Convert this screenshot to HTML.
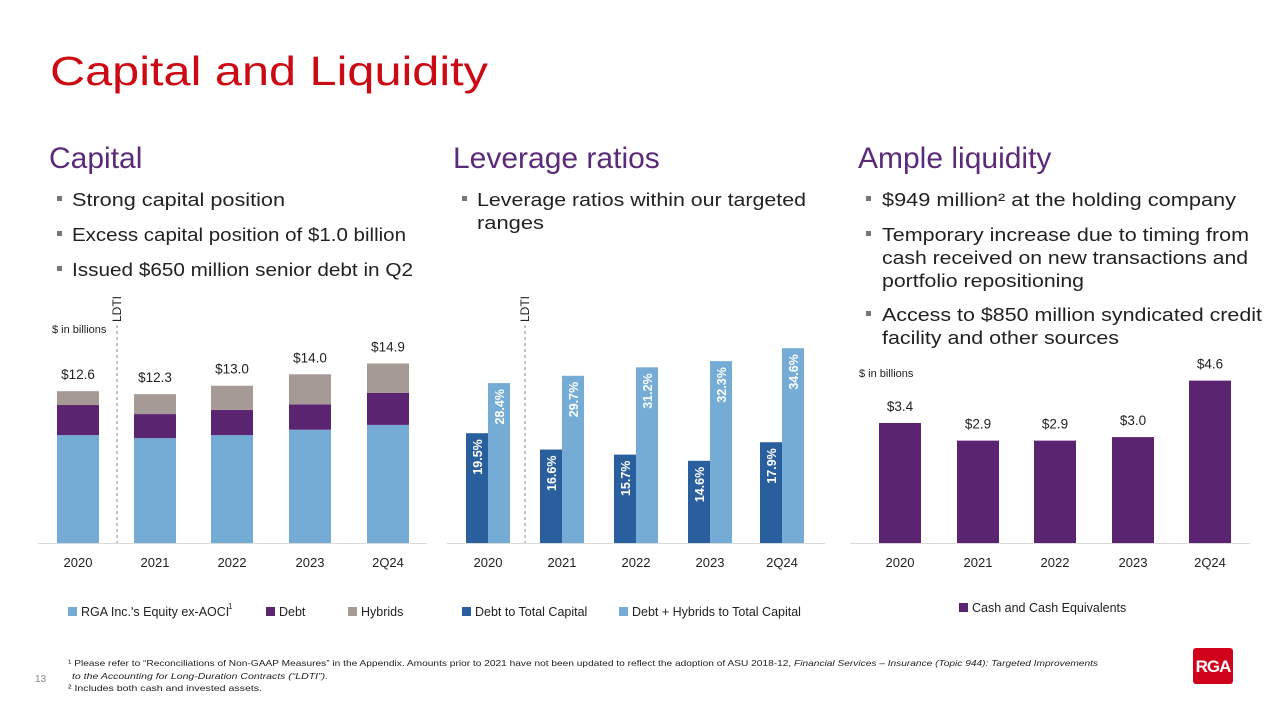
<!DOCTYPE html>
<html><head><meta charset="utf-8"><style>
html,body{margin:0;padding:0;background:#fff}
svg{display:block;font-family:"Liberation Sans",sans-serif}
</style></head><body>
<svg id="s" width="1280" height="720" viewBox="0 0 1280 720">
<text x="50" y="85" font-size="41" fill="#cc0a14" textLength="438" lengthAdjust="spacingAndGlyphs">Capital and Liquidity</text>

<text x="49" y="168" font-size="30" fill="#5b2a78">Capital</text>
<text x="453" y="168" font-size="30" fill="#5b2a78">Leverage ratios</text>
<text x="858" y="168" font-size="30" fill="#5b2a78">Ample liquidity</text>

<g font-size="18" fill="#222">
<rect x="57" y="196" width="5" height="5" fill="#777"/><text x="72" y="206" textLength="213" lengthAdjust="spacingAndGlyphs">Strong capital position</text>
<rect x="57" y="231" width="5" height="5" fill="#777"/><text x="72" y="241" textLength="334" lengthAdjust="spacingAndGlyphs">Excess capital position of $1.0 billion</text>
<rect x="57" y="266" width="5" height="5" fill="#777"/><text x="72" y="276" textLength="341" lengthAdjust="spacingAndGlyphs">Issued $650 million senior debt in Q2</text>
<rect x="462" y="196" width="5" height="5" fill="#777"/><text x="477" y="206" textLength="329" lengthAdjust="spacingAndGlyphs">Leverage ratios within our targeted</text><text x="477" y="229" textLength="67" lengthAdjust="spacingAndGlyphs">ranges</text>
<rect x="866" y="196" width="5" height="5" fill="#777"/><text x="882" y="206" textLength="354" lengthAdjust="spacingAndGlyphs">$949 million² at the holding company</text>
<rect x="866" y="231" width="5" height="5" fill="#777"/><text x="882" y="241" textLength="367" lengthAdjust="spacingAndGlyphs">Temporary increase due to timing from</text><text x="882" y="264" textLength="366" lengthAdjust="spacingAndGlyphs">cash received on new transactions and</text><text x="882" y="287" textLength="202" lengthAdjust="spacingAndGlyphs">portfolio repositioning</text>
<rect x="866" y="311" width="5" height="5" fill="#777"/><text x="882" y="321" textLength="380" lengthAdjust="spacingAndGlyphs">Access to $850 million syndicated credit</text><text x="882" y="344" textLength="237" lengthAdjust="spacingAndGlyphs">facility and other sources</text>
</g>

<g id="c1"></g>
<g id="c2"></g>
<g id="c3"></g>

<g font-size="8.5" fill="#222">
<text x="35" y="682" font-size="10" fill="#888">13</text>
<text x="68" y="666" textLength="1030" lengthAdjust="spacingAndGlyphs">¹ Please refer to “Reconciliations of Non-GAAP Measures” in the Appendix. Amounts prior to 2021 have not been updated to reflect the adoption of ASU 2018-12, <tspan font-style="italic">Financial Services – Insurance (Topic 944): Targeted Improvements</tspan></text>
<text x="72" y="679" font-style="italic" textLength="256" lengthAdjust="spacingAndGlyphs">to the Accounting for Long-Duration Contracts (“LDTI”).</text>
<text x="68" y="691" textLength="194" lengthAdjust="spacingAndGlyphs">² Includes both cash and invested assets.</text>
</g>
<g>
<rect x="1193" y="648" width="40" height="36" rx="3" fill="#d0021b"/>
<text x="1213" y="672" font-size="17" font-weight="bold" fill="#fff" text-anchor="middle" letter-spacing="-1">RGA</text>
</g>
</svg>
<script>
const NS="http://www.w3.org/2000/svg";
function mk(p,t,a,txt){const e=document.createElementNS(NS,t);for(const k in a)e.setAttribute(k,a[k]);if(txt!=null)e.textContent=txt;p.appendChild(e);return e;}
const categories=["2020","2021","2022","2023","2Q24"];
// Capital chart ($B)
const equity=[8.95,8.7,8.95,9.4,9.8];
const debt=[2.5,2.0,2.1,2.1,2.65];
const hybrids=[1.15,1.65,2.0,2.5,2.45];
const capitalTotals=["$12.6","$12.3","$13.0","$14.0","$14.9"];
// Leverage chart (%)
const debtToCap=[19.5,16.6,15.7,14.6,17.9];
const debtHybToCap=[28.4,29.7,31.2,32.3,34.6];
// Liquidity chart ($B)
const cash=[3.4,2.9,2.9,3.0,4.6];
const cashLabels=["$3.4","$2.9","$2.9","$3.0","$4.6"];

const base=543;
function axis(g,x0,x1,centers){
  const l=mk(g,'line',{x1:x0,x2:x1,y1:base+0.5,y2:base+0.5,stroke:'#d9d9d9','stroke-width':1});
  
  
  categories.forEach((c,i)=>{const t=mk(g,'text',{x:centers[i],y:567,'font-size':13,fill:'#222','text-anchor':'middle'},c);
    
    });
}
function ldti(g,x){
  const l=mk(g,'line',{x1:x,x2:x,y1:325,y2:543,stroke:'#888','stroke-dasharray':'3,3'});
  
  
  const t=mk(g,'text',{transform:`translate(${x+4},322) rotate(-90)`,'font-size':12,fill:'#222'},'LDTI');
  
  
}
function legend(g,x,color,label,y){
  mk(g,'rect',{x:x,y:y-9,width:9,height:9,fill:color});
  const t=mk(g,'text',{x:x+13,y:y,'font-size':12.5,fill:'#222'},label);
  
  
}
// chart 1
(function(){
  const g=document.getElementById('c1');
  const centers=[78,155,232,310,388], w=42, k=12.05;
  const y=v=>base-v*k;
  axis(g,38,427,centers);
  categories.forEach((c,i)=>{
    const e=equity[i],d=debt[i],h=hybrids[i];
    const parts=[[0,e,'#74acd5','bar-equity'],[e,e+d,'#5b2470','bar-debt'],[e+d,e+d+h,'#a59a96','bar-hybrids']];
    parts.forEach(p=>{const r=mk(g,'rect',{x:centers[i]-w/2,y:y(p[1]),width:w,height:y(p[0])-y(p[1]),fill:p[2]});
      
      });
    const t=mk(g,'text',{x:centers[i],y:y(e+d+h)-12,'font-size':13.5,fill:'#222','text-anchor':'middle'},capitalTotals[i]);
    
    
  });
  ldti(g,117);
  const u=mk(g,'text',{x:52,y:333,'font-size':11,fill:'#222'},'$ in billions');
  
  
  legend(g,68,'#74acd5',"RGA Inc.'s Equity ex-AOCI",616);
  mk(g,'text',{x:228,y:609,'font-size':8,fill:'#222'},'1');
  legend(g,266,'#5b2470','Debt',616);
  legend(g,348,'#a59a96','Hybrids',616);
})();
// chart 2
(function(){
  const g=document.getElementById('c2');
  const centers=[488,562,636,710,782], w=22, k=5.63;
  const y=v=>base-v*k;
  axis(g,447,825,centers);
  categories.forEach((c,i)=>{
    [[debtToCap[i],centers[i]-w,'#2a5f9e','bar-debt-to-capital'],[debtHybToCap[i],centers[i],'#74acd5','bar-debt-hybrids-to-capital']].forEach(p=>{
      const r=mk(g,'rect',{x:p[1],y:y(p[0]),width:w,height:base-y(p[0]),fill:p[2]});
      
      
      const t=mk(g,'text',{transform:`translate(${p[1]+w/2+5},${y(p[0])+6}) rotate(-90)`,'font-size':12.5,'font-weight':'bold',fill:'#fff','text-anchor':'end'},p[0].toFixed(1)+'%');
      
      
    });
  });
  ldti(g,525);
  legend(g,462,'#2a5f9e','Debt to Total Capital',616);
  legend(g,619,'#74acd5','Debt + Hybrids to Total Capital',616);
})();
// chart 3
(function(){
  const g=document.getElementById('c3');
  const centers=[900,978,1055,1133,1210], w=42, k=35.3;
  const y=v=>base-v*k;
  axis(g,850,1250,centers);
  categories.forEach((c,i)=>{
    const r=mk(g,'rect',{x:centers[i]-w/2,y:y(cash[i]),width:w,height:base-y(cash[i]),fill:'#5b2470'});
    
    
    const t=mk(g,'text',{x:centers[i],y:y(cash[i])-12,'font-size':13.5,fill:'#222','text-anchor':'middle'},cashLabels[i]);
    
    
  });
  const u=mk(g,'text',{x:859,y:377,'font-size':11,fill:'#222'},'$ in billions');
  
  
  legend(g,959,'#5b2470','Cash and Cash Equivalents',612);
})();
</script>
</body></html>
